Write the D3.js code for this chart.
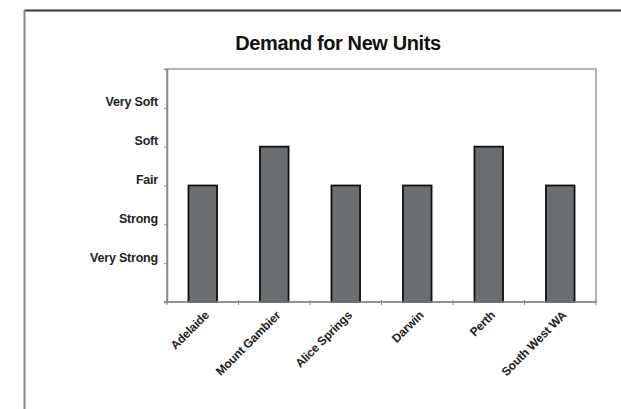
<!DOCTYPE html>
<html><head><meta charset="utf-8">
<script src="https://cdn.jsdelivr.net/npm/d3@7/dist/d3.min.js"></script>
<style>body{margin:0;background:#fff}svg{display:block}</style>
</head><body>
<script>
const categories = ["Adelaide","Mount Gambier","Alice Springs","Darwin","Perth","South West WA"];
const values = [3,4,3,3,4,3];
const levelValues = [1,2,3,4,5];
const levelLabels = ["Very Strong","Strong","Fair","Soft","Very Soft"];
const title = "Demand for New Units";

const W=621,H=409;
const svg=d3.select("body").append("svg").attr("width",W).attr("height",H);
// outer frame
svg.append("line").attr("x1",24.5).attr("x2",W).attr("y1",10.5).attr("y2",10.5).attr("stroke","#333").attr("stroke-width",2);
svg.append("line").attr("x1",24.5).attr("x2",24.5).attr("y1",10).attr("y2",H).attr("stroke","#888").attr("stroke-width",2);

const L=167,R=596,T=69,B=302;
const x=d3.scaleBand().domain(categories).range([L,R]).paddingInner(0.6).paddingOuter(0.3);
const y=d3.scaleLinear().domain([0,6]).range([B,T]);
const FF="Liberation Sans, Arial, sans-serif";

svg.append("text").attr("x",338).attr("y",50).attr("text-anchor","middle")
  .attr("font-family",FF).attr("font-weight","bold")
  .attr("font-size",20).attr("fill","#111").attr("letter-spacing","-0.4").text(title);

// plot border
svg.append("rect").attr("x",L).attr("y",T).attr("width",R-L).attr("height",B-T)
  .attr("fill","none").attr("stroke","#999").attr("stroke-width",1.5);

// bars
svg.selectAll("rect.bar").data(values).join("rect").attr("class","bar")
  .attr("x",(d,i)=>x(categories[i])).attr("width",x.bandwidth())
  .attr("y",d=>y(d)).attr("height",d=>B-y(d))
  .attr("fill","#6b6e70").attr("stroke","#111").attr("stroke-width",1.8);

// y axis
const yAxis=d3.axisLeft(y).tickValues(levelValues).tickSize(3).tickFormat((d,i)=>levelLabels[i]);
const gy=svg.append("g").attr("transform",`translate(${L},0)`).call(yAxis);
gy.select(".domain").attr("stroke","#888").attr("stroke-width",1.5);
gy.selectAll(".tick line").attr("stroke","#888");
gy.selectAll(".tick text").attr("x",-9).attr("dy","-0.15em")
  .attr("font-family",FF).attr("font-weight","bold").attr("font-size",12.5).attr("letter-spacing","-0.2").attr("fill","#222");

// x axis
const xb=d3.scaleLinear().domain([0,categories.length]).range([L,R]);
const gx=svg.append("g").attr("transform",`translate(0,${B})`);
gx.append("line").attr("x1",L-3).attr("x2",R).attr("stroke","#888").attr("stroke-width",1.5);
gx.selectAll("line.tk").data(d3.range(categories.length+1)).join("line").attr("class","tk")
  .attr("x1",d=>xb(d)).attr("x2",d=>xb(d)).attr("y1",-2).attr("y2",3).attr("stroke","#888");
gx.selectAll("text").data(categories).join("text")
  .attr("transform",d=>`translate(${x(d)+x.bandwidth()/2+4},11) rotate(-45)`)
  .attr("text-anchor","end").attr("dy","0.35em")
  .attr("font-family",FF).attr("font-weight","bold").attr("font-size",12).attr("letter-spacing","-0.2").attr("fill","#222")
  .text(d=>d);
</script>
</body></html>
